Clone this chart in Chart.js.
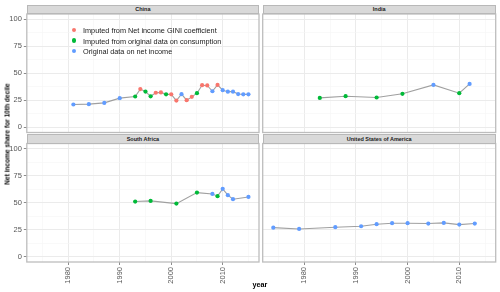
<!DOCTYPE html>
<html>
<head>
<meta charset="utf-8">
<script src="https://cdn.jsdelivr.net/npm/chart.js@4.4.1/dist/chart.umd.min.js"></script>
<style>
  body { margin: 0; background: #fff; font-family: "Liberation Sans", Arial, sans-serif; }
  #wrap { position: relative; width: 500px; height: 292px; overflow: hidden; }
  canvas { position: absolute; left: 0; top: 0; }
  .strip {
    position: absolute; box-sizing: border-box; background: #d9d9d9;
    border: 1px solid #b8b8b8; font-weight: bold; font-size: 5.5px; color: #1a1a1a;
    text-align: center; display: flex; align-items: center; justify-content: center;
  }
  .legend { position: absolute; font-size: 7.3px; color: #1a1a1a; white-space: nowrap; }
  .legend .dot { position: absolute; width: 4.6px; height: 4.6px; border-radius: 50%; }
  .legend .txt { position: absolute; transform: translateY(-50%); }
  .title { position: absolute; font-weight: bold; color: #000; white-space: nowrap; }
</style>
</head>
<body>
<div id="wrap">
  <canvas id="cChina" width="500" height="292"></canvas>
  <canvas id="cIndia" width="500" height="292"></canvas>
  <canvas id="cSA" width="500" height="292"></canvas>
  <canvas id="cUSA" width="500" height="292"></canvas>
</div>
<script>
// N = original data on net income, C = imputed from consumption, G = imputed from GINI
const chinaYears = [1981, 1984, 1987, 1990, 1993, 1994, 1995, 1996, 1997, 1998, 1999, 2000, 2001, 2002,
                    2003, 2004, 2005, 2006, 2007, 2008, 2009, 2010, 2011, 2012, 2013, 2014, 2015];
const chinaShare = [21.0, 21.3, 22.5, 26.9, 28.4, 35.3, 33.0, 28.6, 31.9, 32.2, 30.4, 30.4, 24.6, 30.6,
                    25.0, 28.1, 31.5, 38.9, 38.7, 33.3, 39.2, 34.3, 32.9, 32.9, 30.7, 30.4, 30.4];
const chinaSource = ['N', 'N', 'N', 'N', 'C', 'G', 'C', 'C', 'G', 'G', 'C', 'G', 'G', 'N',
                     'G', 'G', 'C', 'G', 'G', 'N', 'G', 'N', 'N', 'N', 'N', 'N', 'N'];

const indiaYears = [1983, 1988, 1994, 1999, 2005, 2010, 2012];
const indiaShare = [27.1, 28.7, 27.5, 30.9, 39.2, 31.5, 40.1];
const indiaSource = ['C', 'C', 'C', 'C', 'N', 'C', 'N'];

const saYears = [1993, 1996, 2001, 2005, 2008, 2009, 2010, 2011, 2012, 2015];
const saShare = [51.1, 51.7, 49.2, 59.4, 58.2, 56.1, 62.9, 57.0, 53.3, 55.4];
const saSource = ['C', 'C', 'C', 'C', 'N', 'C', 'N', 'N', 'N', 'N'];

const usaYears = [1974, 1979, 1986, 1991, 1994, 1997, 2000, 2004, 2007, 2010, 2013];
const usaShare = [26.9, 25.7, 27.3, 28.2, 30.1, 31.0, 31.0, 30.7, 31.3, 29.7, 30.7];
const usaSource = ['N', 'N', 'N', 'N', 'N', 'N', 'N', 'N', 'N', 'N', 'N'];

const yTicks = [0, 12.5, 25, 37.5, 50, 62.5, 75, 87.5, 100];
const xTicks = [1975, 1980, 1985, 1990, 1995, 2000, 2005, 2010, 2015];
const legendLabels = ['Imputed from Net income GINI coefficient',
                      'Imputed from original data on consumption',
                      'Original data on net income'];
const legendCodes = ['G', 'C', 'N'];

const SOURCE_COLORS = { G: '#F8766D', C: '#00BA38', N: '#619CFF' };

// panel geometry (page px)
const COLS = [{ left: 26.8, right: 259 }, { left: 262.7, right: 495.7 }];
const ROWS = [{ top: 14, bottom: 132.5 }, { top: 143.5, bottom: 262 }];
const STRIP_H = 9.5;
const X_AXIS_H = 30;

const panelBorder = {
    id: 'panelBorder',
    afterDraw(chart) {
        const { ctx, chartArea: a } = chart;
        ctx.save();
        ctx.strokeStyle = '#bdbdbd';
        ctx.lineWidth = 1.3;
        ctx.strokeRect(a.left, a.top, a.right - a.left, a.bottom - a.top);
        ctx.restore();
    }
};

function makePanel(id, name, col, row, years, shares, sources) {
    const c = COLS[col], r = ROWS[row];
    const showY = col === 0;
    const showX = row === 1;

    const strip = document.createElement('div');
    strip.className = 'strip';
    strip.textContent = name;
    Object.assign(strip.style, {
        left: c.left + 'px', top: (r.top - STRIP_H) + 'px',
        width: (c.right - c.left) + 'px', height: STRIP_H + 'px'
    });
    document.getElementById('wrap').appendChild(strip);

    const pts = years.map((y, i) => ({ x: y, y: shares[i] }));

    return new Chart(document.getElementById(id), {
        type: 'line',
        data: {
            datasets: [{
                data: pts,
                borderColor: '#a0a0a0',
                borderWidth: 1.1,
                tension: 0,
                pointRadius: 2.1,
                pointBorderWidth: 0,
                pointBackgroundColor: sources.map(s => SOURCE_COLORS[s])
            }]
        },
        options: {
            responsive: false,
            animation: false,
            events: [],
            layout: {
                padding: {
                    left: showY ? 0 : c.left,
                    top: r.top,
                    right: 500 - c.right,
                    bottom: showX ? 292 - r.bottom - X_AXIS_H : 292 - r.bottom
                }
            },
            plugins: { legend: { display: false }, tooltip: { enabled: false } },
            scales: {
                x: {
                    type: 'linear',
                    min: 1971.95,
                    max: 2017.05,
                    afterBuildTicks: s => { s.ticks = xTicks.map(v => ({ value: v })); },
                    afterFit: s => { s.height = showX ? X_AXIS_H : 0; },
                    border: { display: false },
                    grid: {
                        drawTicks: showX,
                        tickLength: 3,
                        color: ctx => ctx.tick && ctx.tick.value % 10 === 0 ? '#ebebeb' : '#f5f5f5',
                        lineWidth: ctx => ctx.tick && ctx.tick.value % 10 === 0 ? 1 : 0.6,
                        tickColor: ctx => ctx.tick && ctx.tick.value % 10 === 0 ? '#8c8c8c' : 'rgba(0,0,0,0)'
                    },
                    ticks: {
                        display: showX,
                        autoSkip: false,
                        minRotation: 90,
                        maxRotation: 90,
                        padding: 2,
                        color: '#555',
                        font: { family: '"Liberation Sans", Arial', size: 7.5 },
                        callback: v => (v % 10 === 0 ? String(v) : '')
                    }
                },
                y: {
                    min: -5,
                    max: 105,
                    afterBuildTicks: s => { s.ticks = yTicks.map(v => ({ value: v })); },
                    afterFit: s => { s.width = showY ? c.left : 0; },
                    border: { display: false },
                    grid: {
                        drawTicks: showY,
                        tickLength: 3,
                        color: ctx => ctx.tick && ctx.tick.value % 25 === 0 ? '#ebebeb' : '#f5f5f5',
                        lineWidth: ctx => ctx.tick && ctx.tick.value % 25 === 0 ? 1 : 0.6,
                        tickColor: ctx => ctx.tick && ctx.tick.value % 25 === 0 ? '#8c8c8c' : 'rgba(0,0,0,0)'
                    },
                    ticks: {
                        display: showY,
                        padding: 2,
                        color: '#555',
                        font: { family: '"Liberation Sans", Arial', size: 7.5 },
                        callback: v => (v % 25 === 0 ? String(v) : '')
                    }
                }
            }
        },
        plugins: [panelBorder]
    });
}

makePanel('cChina', 'China', 0, 0, chinaYears, chinaShare, chinaSource);
makePanel('cIndia', 'India', 1, 0, indiaYears, indiaShare, indiaSource);
makePanel('cSA', 'South Africa', 0, 1, saYears, saShare, saSource);
makePanel('cUSA', 'United States of America', 1, 1, usaYears, usaShare, usaSource);

// legend inside the China panel
const wrap = document.getElementById('wrap');
legendLabels.forEach((label, i) => {
    const cy = 30.2 + i * 10.3;
    const row = document.createElement('div');
    row.className = 'legend';
    row.style.left = '0px';
    row.style.top = '0px';
    const dot = document.createElement('span');
    dot.className = 'dot';
    dot.style.background = SOURCE_COLORS[legendCodes[i]];
    dot.style.left = (74 - 2.3) + 'px';
    dot.style.top = (cy - 2.3) + 'px';
    const txt = document.createElement('span');
    txt.className = 'txt';
    txt.textContent = label;
    txt.style.left = '83px';
    txt.style.top = cy + 'px';
    row.appendChild(dot);
    row.appendChild(txt);
    wrap.appendChild(row);
});

// axis titles
const yTitle = document.createElement('div');
yTitle.className = 'title';
yTitle.textContent = 'Net income share for 10th decile';
Object.assign(yTitle.style, { left: '7px', top: '134px', fontSize: '6.6px',
    transform: 'translate(-50%, -50%) rotate(-90deg)' });
wrap.appendChild(yTitle);

const xTitle = document.createElement('div');
xTitle.className = 'title';
xTitle.textContent = 'year';
Object.assign(xTitle.style, { left: '260px', top: '284px', fontSize: '7.2px',
    transform: 'translate(-50%, -50%)' });
wrap.appendChild(xTitle);
</script>
</body>
</html>
